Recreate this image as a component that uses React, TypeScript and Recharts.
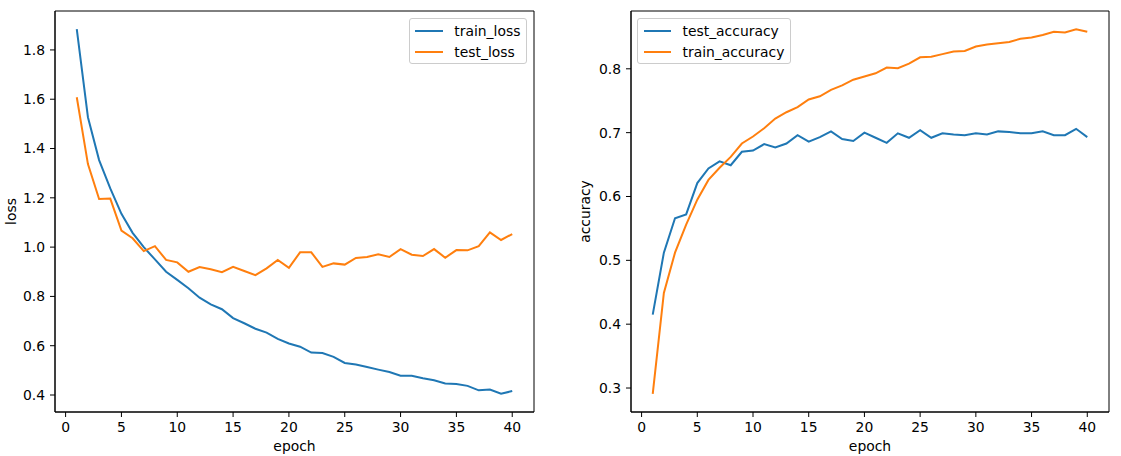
import React from "react";
import { Label, Legend, Line, LineChart, ReferenceArea, XAxis, YAxis } from "recharts";

const epochs = Array.from({ length: 40 }, (_, i) => i + 1);

const trainLoss = [
  1.884, 1.527, 1.353, 1.238, 1.135, 1.058, 1.0, 0.95, 0.9, 0.867,
  0.833, 0.795, 0.768, 0.748, 0.712, 0.691, 0.669, 0.653, 0.628, 0.609,
  0.596, 0.572, 0.57, 0.555, 0.53, 0.524, 0.514, 0.503, 0.493, 0.478,
  0.478, 0.468, 0.46, 0.447, 0.445, 0.437, 0.419, 0.422, 0.405, 0.416,
];
const testLoss = [
  1.608, 1.337, 1.195, 1.197, 1.067, 1.036, 0.984, 1.004, 0.948, 0.938,
  0.9, 0.919, 0.91, 0.898, 0.92, 0.903, 0.886, 0.914, 0.948, 0.916,
  0.979, 0.979, 0.92, 0.934, 0.929, 0.956, 0.96, 0.971, 0.96, 0.992,
  0.969, 0.964, 0.992, 0.957, 0.988, 0.987, 1.004, 1.06, 1.029, 1.053,
];
const testAcc = [
  0.415, 0.512, 0.566, 0.572, 0.621, 0.644, 0.655, 0.649, 0.67, 0.672,
  0.682, 0.677, 0.683, 0.696, 0.686, 0.693, 0.702, 0.69, 0.687, 0.7,
  0.692, 0.684, 0.699, 0.692, 0.704, 0.692, 0.699, 0.697, 0.696, 0.699,
  0.697, 0.702, 0.701, 0.699, 0.699, 0.702, 0.696, 0.696, 0.706, 0.693,
];
const trainAcc = [
  0.291, 0.449, 0.512, 0.556, 0.595, 0.626, 0.645, 0.662, 0.683, 0.694,
  0.707, 0.722, 0.732, 0.74, 0.752, 0.757, 0.767, 0.774, 0.783, 0.788,
  0.793, 0.802, 0.801, 0.808, 0.818, 0.819, 0.823, 0.827, 0.828, 0.835,
  0.838, 0.84, 0.842, 0.847, 0.849, 0.853, 0.858, 0.857, 0.862, 0.858,
];

const epochTicks = [0, 5, 10, 15, 20, 25, 30, 35, 40];
const lossTicks = [0.4, 0.6, 0.8, 1.0, 1.2, 1.4, 1.6, 1.8];
const accTicks = [0.3, 0.4, 0.5, 0.6, 0.7, 0.8];

const lossSeries = ["train_loss", "test_loss"];
const accSeries = ["test_accuracy", "train_accuracy"];

const BLUE = "#1f77b4";
const ORANGE = "#ff7f0e";
const FONT = "DejaVu Sans, sans-serif";
const FS = 13.9;

// matplotlib-style autoscale: 5% padding on each side
function pad(values: number[]): [number, number] {
  const lo = Math.min(...values);
  const hi = Math.max(...values);
  const m = (hi - lo) * 0.05;
  return [lo - m, hi + m];
}

const xDomain = pad(epochs);
const lossDomain = pad([...trainLoss, ...testLoss]);
const accDomain = pad([...testAcc, ...trainAcc]);

const lossRows = epochs.map((e, i) => ({ epoch: e, train_loss: trainLoss[i], test_loss: testLoss[i] }));
const accRows = epochs.map((e, i) => ({ epoch: e, test_accuracy: testAcc[i], train_accuracy: trainAcc[i] }));

const tickStyle = { fill: "#000", fontSize: FS, fontFamily: FONT };

function BoxLegend(props: any) {
  const order: string[] = props.order || [];
  const items = [...(props.payload || [])].sort(
    (a: any, b: any) => order.indexOf(a.value) - order.indexOf(b.value)
  );
  return (
    <div
      style={{
        display: "inline-block",
        border: "1px solid #cccccc",
        borderRadius: 3,
        background: "rgba(255,255,255,0.8)",
        padding: "1px 5.6px 1px 5.6px",
        fontFamily: FONT,
        fontSize: FS,
        color: "#000",
      }}
    >
      {items.map((it: any) => (
        <div key={it.value} style={{ display: "flex", alignItems: "center", height: 21, whiteSpace: "nowrap" }}>
          <span style={{ display: "inline-block", width: 27.8, height: 2, background: it.color, marginRight: 11.1 }} />
          <span>{it.value}</span>
        </div>
      ))}
    </div>
  );
}

function xLabel(text: string) {
  return (
    <Label
      content={(p: any) => {
        const vb = p.viewBox;
        return (
          <text x={vb.x + vb.width / 2} y={vb.y + 39} textAnchor="middle" fill="#000" fontSize={FS} fontFamily={FONT}>
            {text}
          </text>
        );
      }}
    />
  );
}

function yLabel(text: string, x: number) {
  return (
    <Label
      content={(p: any) => {
        const vb = p.viewBox;
        const cy = vb.y + vb.height / 2;
        return (
          <text x={x} y={cy} transform={`rotate(-90 ${x} ${cy})`} textAnchor="middle" fill="#000" fontSize={FS} fontFamily={FONT}>
            {text}
          </text>
        );
      }}
    />
  );
}

export default function App() {
  return (
    <div style={{ position: "absolute", left: 0, top: 0, width: 1121, height: 456, background: "#fff" }}>
      <div style={{ position: "absolute", left: 0, top: 0 }}>
        <LineChart width={560} height={456} data={lossRows} margin={{ top: 11, right: 26, bottom: 0, left: 0 }}>
          <XAxis
            dataKey="epoch"
            type="number"
            domain={xDomain}
            ticks={epochTicks}
            allowDataOverflow
            height={44}
            stroke="#000"
            tick={tickStyle}
            tickSize={5}
            tickMargin={5.5}
          >
            {xLabel("epoch")}
          </XAxis>
          <YAxis
            type="number"
            domain={lossDomain}
            ticks={lossTicks}
            allowDataOverflow
            width={55}
            stroke="#000"
            tick={tickStyle}
            tickSize={5}
            tickMargin={5}
            tickFormatter={(v: number) => v.toFixed(1)}
          >
            {yLabel("loss", 16)}
          </YAxis>
          <ReferenceArea
            x1={xDomain[0]}
            x2={xDomain[1]}
            y1={lossDomain[0]}
            y2={lossDomain[1]}
            fill="none"
            stroke="#000"
            strokeWidth={1}
            ifOverflow="visible"
          />
          <Legend
            layout="horizontal"
            verticalAlign="middle"
            align="center"
            content={<BoxLegend order={lossSeries} />}
            wrapperStyle={{ top: 18, left: "auto", right: 33, width: "auto", height: "auto" }}
          />
          <Line dataKey="train_loss" name="train_loss" stroke={BLUE} strokeWidth={2} dot={false} type="linear" isAnimationActive={false} />
          <Line dataKey="test_loss" name="test_loss" stroke={ORANGE} strokeWidth={2} dot={false} type="linear" isAnimationActive={false} />
        </LineChart>
      </div>
      <div style={{ position: "absolute", left: 560, top: 0 }}>
        <LineChart width={561} height={456} data={accRows} margin={{ top: 11, right: 12, bottom: 0, left: 0 }}>
          <XAxis
            dataKey="epoch"
            type="number"
            domain={xDomain}
            ticks={epochTicks}
            allowDataOverflow
            height={44}
            stroke="#000"
            tick={tickStyle}
            tickSize={5}
            tickMargin={5.5}
          >
            {xLabel("epoch")}
          </XAxis>
          <YAxis
            type="number"
            domain={accDomain}
            ticks={accTicks}
            allowDataOverflow
            width={71}
            stroke="#000"
            tick={tickStyle}
            tickSize={5}
            tickMargin={5}
            tickFormatter={(v: number) => v.toFixed(1)}
          >
            {yLabel("accuracy", 30)}
          </YAxis>
          <ReferenceArea
            x1={xDomain[0]}
            x2={xDomain[1]}
            y1={accDomain[0]}
            y2={accDomain[1]}
            fill="none"
            stroke="#000"
            strokeWidth={1}
            ifOverflow="visible"
          />
          <Legend
            layout="horizontal"
            verticalAlign="middle"
            align="center"
            content={<BoxLegend order={accSeries} />}
            wrapperStyle={{ top: 18, left: 77, width: "auto", height: "auto" }}
          />
          <Line dataKey="test_accuracy" name="test_accuracy" stroke={BLUE} strokeWidth={2} dot={false} type="linear" isAnimationActive={false} />
          <Line dataKey="train_accuracy" name="train_accuracy" stroke={ORANGE} strokeWidth={2} dot={false} type="linear" isAnimationActive={false} />
        </LineChart>
      </div>
    </div>
  );
}
